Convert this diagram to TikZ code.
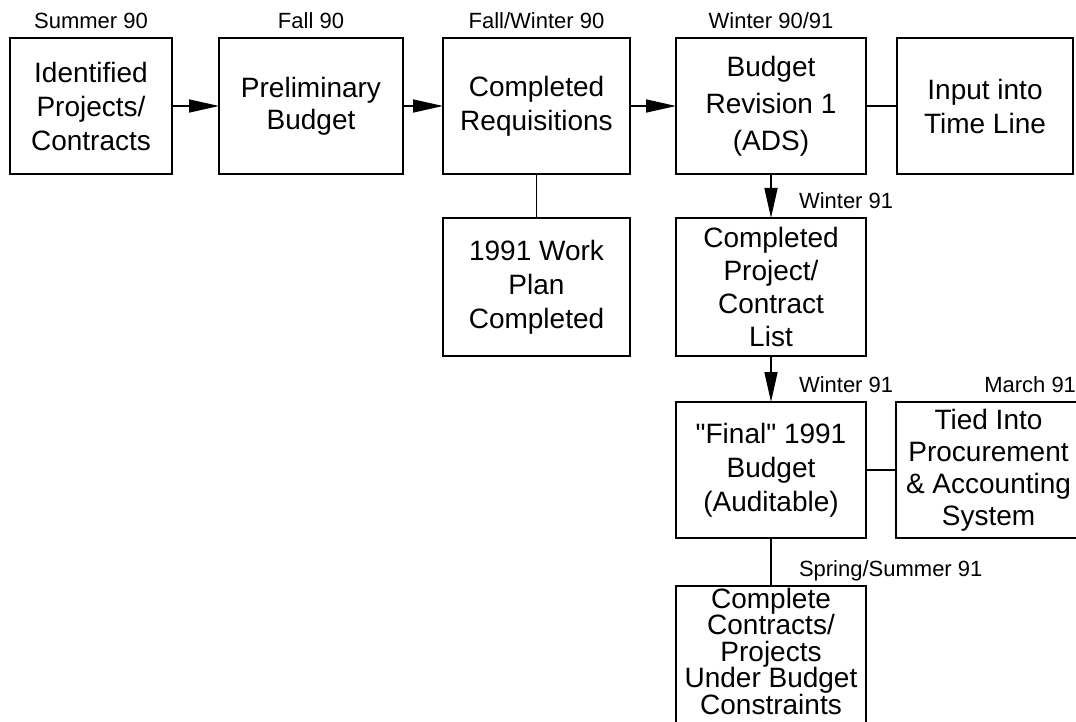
\documentclass[tikz,border=0pt]{standalone}
\usepackage{fontspec}
\setmainfont{Liberation Sans}
\usepackage{tikz}
\usetikzlibrary{positioning}
\usetikzlibrary{arrows.meta}
\tikzset{x=1pt, y=-1pt, every text node part/.style={align=center}}
\tikzstyle{block} = [draw=black, fill=white, line width=1.6pt, inner sep=2pt, outer sep=0pt, minimum height=136pt, font={\fontsize{28}{34}\selectfont}]
\tikzstyle{tag} = [inner sep=0pt, outer sep=0pt, text height=1.5ex, text depth=0.25ex, font={\fontsize{22}{26}\selectfont}]
\tikzstyle{ln} = [draw, line width=1.6pt, arrows={-Triangle[length=30pt, width=13pt]}]
\tikzstyle{lk} = [draw, line width=1.6pt]

\begin{document}
\begin{tikzpicture}
  \useasboundingbox (0,0) rectangle (1076,722);
  \clip (0,0) rectangle (1076,722);
  % top row
  \node[block, minimum width=162pt, anchor=north west] (identified) at (10,38) {Identified\\Projects/\\Contracts};
  \node[block, minimum width=184pt, right=47pt of identified, font={\fontsize{28}{32}\selectfont}] (prelim) {Preliminary\\Budget};
  \node[block, minimum width=187pt, right=40pt of prelim] (requis) {Completed\\Requisitions};
  \node[block, minimum width=190pt, right=46pt of requis, font={\fontsize{28}{37}\selectfont}] (revision) {Budget\\Revision 1\\(ADS)};
  \node[block, minimum width=176pt, right=31pt of revision] (timeline) {Input into\\Time Line};
  % lower boxes
  \node[block, minimum width=187pt, below=44pt of requis, minimum height=138pt] (workplan) {1991 Work\\Plan\\Completed};
  \node[block, minimum width=190pt, below=44pt of revision, minimum height=138pt, font={\fontsize{28}{33}\selectfont}] (projlist) {Completed\\Project/\\Contract\\List};
  \node[block, minimum width=190pt, below=46pt of projlist] (final) {\textquotedbl Final\textquotedbl\ 1991\\Budget\\(Auditable)};
  \node[block, minimum width=185pt, right=30pt of final, font={\fontsize{28}{32}\selectfont}] (procure) {Tied Into\\Procurement\\\& Accounting\\System};
  \node[block, minimum width=190pt, minimum height=142pt, text depth=14pt, below=48pt of final, font={\fontsize{28}{26.5}\selectfont}] (complete) {Complete\\Contracts/\\Projects\\Under Budget\\Constraints};
  % dates
  \node[tag, above=8pt of identified] (summer) {Summer 90};
  \node[tag, above=8pt of prelim] (fall) {Fall 90};
  \node[tag, above=8pt of requis] (fallwinter) {Fall/Winter 90};
  \node[tag, above=8pt of revision] (winter) {Winter 90/91};
  \node[tag, above right=8pt and 28pt of projlist.north] (winterb) {Winter 91};
  \node[tag, above right=8pt and 28pt of final.north] (winterc) {Winter 91};
  \node[tag, above left=8pt and 5pt of procure.north east] (march) {March 91};
  \node[tag, above right=8pt and 28pt of complete.north] (spring) {Spring/Summer 91};
  \path[ln]
    (identified) edge (prelim)
    (prelim) edge (requis)
    (requis) edge (revision)
    (revision) edge (projlist)
    (projlist) edge (final);
  \path[lk]
    (revision) edge (timeline)
    (requis) edge (workplan)
    (final) edge (procure)
    (final) edge (complete);
\end{tikzpicture}
\end{document}
